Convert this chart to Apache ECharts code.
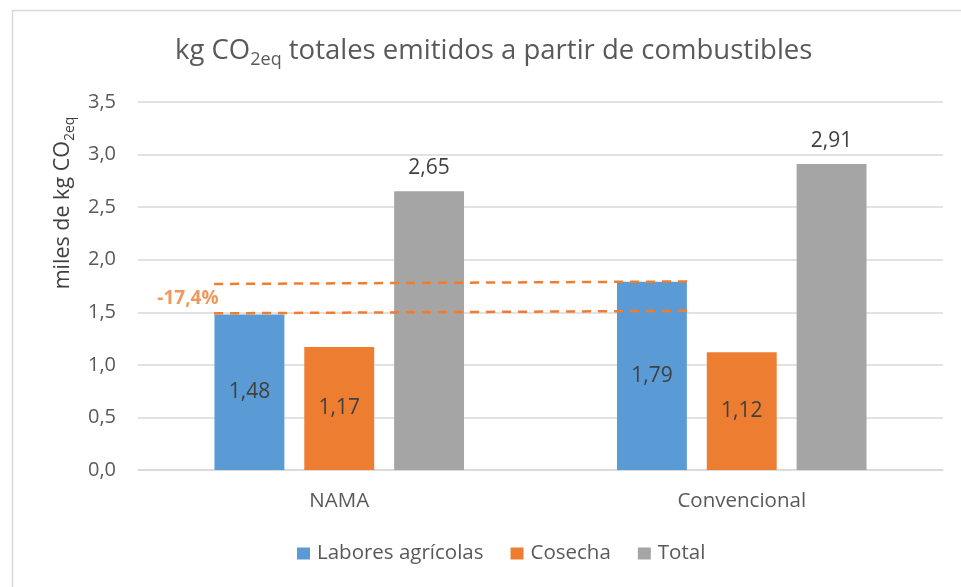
<!DOCTYPE html>
<html>
<head>
<meta charset="utf-8">
<script src="https://cdn.jsdelivr.net/npm/echarts@6/dist/echarts.min.js"></script>
<style>html,body{margin:0;padding:0;background:#fff}#c{width:961px;height:587px}</style>
</head>
<body>
<div id="c"></div>
<script>
const categories = ['NAMA', 'Convencional'];
const seriesNames = ['Labores agrícolas', 'Cosecha', 'Total'];
const labores = [1.48, 1.79];
const cosecha = [1.17, 1.12];
const total = [2.65, 2.91];
const yTicks = [0, 0.5, 1, 1.5, 2, 2.5, 3, 3.5];
// dashed comparison lines (x in category units: 0..2, y in axis values)
const upperLine = [[0.189, 1.769], [1.366, 1.793]];
const lowerLine = [[0.189, 1.490], [1.366, 1.514]];
const diffLabel = [[0.124, 1.626, '-17,4%']];

const FONT = '"Open Sans", "Noto Sans", sans-serif';
const TXT = '#595959';
const fmt = v => v.toFixed(2).replace('.', ',');

const chart = echarts.init(document.getElementById('c'));
chart.setOption({
  animation: false,
  textStyle: { fontFamily: FONT },
  title: {
    text: '{a|kg CO}{s|2eq}{a| totales emitidos a partir de combustibles}',
    left: 170, top: 28,
    textStyle: {
      fontWeight: 'normal',
      rich: {
        a: { fontFamily: FONT, fontSize: 27.5, fontWeight: 'normal', color: TXT, lineHeight: 36 },
        s: { fontFamily: FONT, fontSize: 18, fontWeight: 'normal', color: TXT, lineHeight: 10, verticalAlign: 'bottom' }
      }
    }
  },
  graphic: [{
    type: 'rect', left: 10, top: 8, silent: true,
    shape: { width: 1000, height: 700 },
    style: { fill: 'none', stroke: '#d9d9d9', lineWidth: 1.5 }
  }],
  legend: {
    data: seriesNames, bottom: 18, left: 292,
    itemWidth: 13, itemHeight: 12, itemGap: 27, icon: 'rect',
    textStyle: { fontFamily: FONT, fontSize: 20.5, color: TXT, padding: [0, 0, 0, 2] }
  },
  grid: { left: 138, right: 18, top: 102, bottom: 117 },
  xAxis: [{
    type: 'category', data: categories,
    axisLine: { lineStyle: { color: '#d9d9d9', width: 1.5 } },
    axisTick: { show: false },
    axisLabel: { fontFamily: FONT, fontSize: 20.5, color: TXT, margin: 21 }
  }, {
    type: 'value', min: 0, max: 2, show: false
  }],
  yAxis: {
    type: 'value', min: 0, max: 3.5, interval: 0.5,
    name: '{a|miles de kg CO}{s|2eq}',
    nameLocation: 'middle', nameRotate: 90, nameGap: 58,
    nameTextStyle: {
      padding: [0, 0, 0, 166],
      rich: {
        a: { fontFamily: FONT, fontSize: 21.5, color: '#404040', lineHeight: 28 },
        s: { fontFamily: FONT, fontSize: 14, color: '#404040', lineHeight: 8, verticalAlign: 'bottom' }
      }
    },
    axisLabel: { fontFamily: FONT, fontSize: 20, color: TXT, margin: 22,
      formatter: v => v.toFixed(1).replace('.', ',') },
    splitLine: { lineStyle: { color: '#d9d9d9', width: 1.5 } },
    axisLine: { show: false }, axisTick: { show: false }
  },
  series: [
    { name: seriesNames[0], type: 'bar', data: labores, barGap: '28.5%', barCategoryGap: '38%',
      itemStyle: { color: '#5b9bd5' },
      label: { show: true, position: 'inside', fontFamily: FONT, fontSize: 21, color: '#404040', formatter: p => fmt(p.value) } },
    { name: seriesNames[1], type: 'bar', data: cosecha,
      itemStyle: { color: '#ed7d31' },
      label: { show: true, position: 'inside', fontFamily: FONT, fontSize: 21, color: '#404040', formatter: p => fmt(p.value) } },
    { name: seriesNames[2], type: 'bar', data: total,
      itemStyle: { color: '#a5a5a5' },
      label: { show: true, position: 'top', distance: 13, fontFamily: FONT, fontSize: 21, color: '#404040', formatter: p => fmt(p.value) } },
    { type: 'line', xAxisIndex: 1, data: upperLine, symbol: 'none', z: 5,
      lineStyle: { color: '#ed7d31', width: 2.5, type: [9, 7] } },
    { type: 'line', xAxisIndex: 1, data: lowerLine, symbol: 'none', z: 5,
      lineStyle: { color: '#ed7d31', width: 2.5, type: [9, 7] } },
    { type: 'scatter', xAxisIndex: 1, data: diffLabel, symbolSize: 0, z: 6,
      label: { show: true, position: 'inside', formatter: p => p.value[2],
        fontFamily: FONT, fontSize: 19, fontWeight: 'bold', color: '#ed7d31' } }
  ]
});
</script>
</body>
</html>
